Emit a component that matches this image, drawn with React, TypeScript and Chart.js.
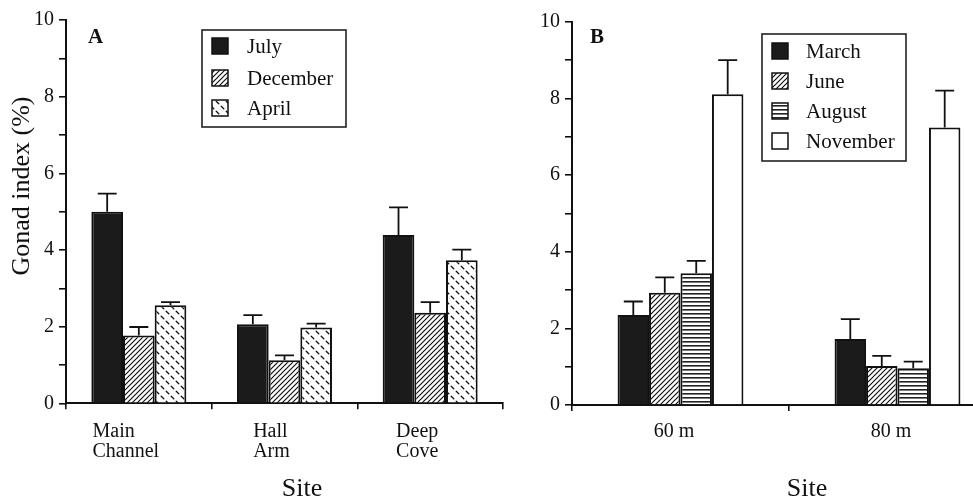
import React, { useEffect, useRef } from 'react';
import { Chart, registerables } from 'chart.js';
Chart.register(...registerables);

const FONT = "'Liberation Serif', 'Times New Roman', serif";

// ---------- Panel A data ----------
const sitesA = [['Main', 'Channel'], ['Hall', 'Arm'], ['Deep', 'Cove']];
const seriesA = ['July', 'December', 'April'];
const julyA = [5.0, 2.06, 4.39];
const julyErrA = [0.47, 0.24, 0.72];
const decA = [1.77, 1.12, 2.36];
const decErrA = [0.22, 0.13, 0.28];
const aprA = [2.56, 1.98, 3.73];
const aprErrA = [0.08, 0.1, 0.28];

// ---------- Panel B data ----------
const sitesB = [['60 m'], ['80 m']];
const seriesB = ['March', 'June', 'August', 'November'];
const marchB = [2.35, 1.72];
const marchErrB = [0.35, 0.52];
const juneB = [2.93, 1.02];
const juneErrB = [0.4, 0.26];
const augB = [3.44, 0.96];
const augErrB = [0.32, 0.17];
const novB = [8.11, 7.24];
const novErrB = [0.89, 0.96];

const yLabelled = [0, 2, 4, 6, 8, 10];
const yTitle = 'Gonad index (%)';
const xTitle = 'Site';

function makePattern(kind: string): any {
  const c = document.createElement('canvas');
  const g = c.getContext('2d') as CanvasRenderingContext2D;
  if (kind === 'diag') {
    c.width = 5; c.height = 5;
    g.fillStyle = '#fff'; g.fillRect(0, 0, 5, 5);
    g.strokeStyle = '#111'; g.lineWidth = 1.2;
    g.beginPath();
    g.moveTo(-1, 6); g.lineTo(6, -1);
    g.moveTo(-1, 1); g.lineTo(1, -1);
    g.moveTo(4, 6); g.lineTo(6, 4);
    g.stroke();
  } else if (kind === 'horiz') {
    c.width = 4; c.height = 4;
    g.fillStyle = '#fff'; g.fillRect(0, 0, 4, 4);
    g.fillStyle = '#222'; g.fillRect(0, 1, 4, 1.6);
  } else if (kind === 'dash') {
    c.width = 10; c.height = 10;
    g.fillStyle = '#fff'; g.fillRect(0, 0, 10, 10);
    g.strokeStyle = '#111'; g.lineWidth = 1.3;
    g.lineCap = 'round';
    g.beginPath();
    g.moveTo(1.2, 6.2); g.lineTo(3.8, 8.8);
    g.moveTo(6.2, 1.2); g.lineTo(8.8, 3.8);
    g.stroke();
  }
  return g.createPattern(c, 'repeat');
}

function decorPlugin(cfg: any) {
  return {
    id: 'decor',
    afterDatasetsDraw(chart: any) {
      const ctx = chart.ctx;
      const y = chart.scales.y;
      ctx.save();
      ctx.strokeStyle = '#111';
      ctx.lineWidth = 1.8;
      chart.data.datasets.forEach((ds: any, d: number) => {
        const meta = chart.getDatasetMeta(d);
        meta.data.forEach((bar: any, i: number) => {
          const top = y.getPixelForValue(ds.data[i] + cfg.errors[d][i]);
          const cap = 19;
          ctx.beginPath();
          ctx.moveTo(bar.x, bar.y);
          ctx.lineTo(bar.x, top);
          ctx.moveTo(bar.x - cap / 2, top);
          ctx.lineTo(bar.x + cap / 2, top);
          ctx.stroke();
        });
      });
      ctx.restore();
    },
    afterDraw(chart: any) {
      const ctx = chart.ctx;
      const xs = chart.scales.x;
      const area = chart.chartArea;
      ctx.save();
      ctx.fillStyle = '#111';
      // category labels
      ctx.font = `20px ${FONT}`;
      ctx.textBaseline = 'alphabetic';
      chart.data.labels.forEach((lab: string[], i: number) => {
        const lines = Array.isArray(lab) ? lab : [lab];
        const w = Math.max(...lines.map((l) => ctx.measureText(l).width));
        const cx = xs.getPixelForValue(i) + cfg.labelShift;
        ctx.textAlign = 'left';
        lines.forEach((l, k) => {
          ctx.fillText(l, cx - w / 2, area.bottom + cfg.labelBase + k * 20);
        });
      });
      // axis titles
      ctx.font = `26px ${FONT}`;
      ctx.textAlign = 'center';
      ctx.fillText(xTitle, cfg.xTitle[0], cfg.xTitle[1]);
      if (cfg.yTitle) {
        ctx.save();
        ctx.translate(cfg.yTitle[0], cfg.yTitle[1]);
        ctx.rotate(-Math.PI / 2);
        ctx.textBaseline = 'middle';
        ctx.fillText(yTitle, 0, 0);
        ctx.restore();
      }
      // panel letter
      ctx.font = `bold 21px ${FONT}`;
      ctx.textAlign = 'left';
      ctx.textBaseline = 'alphabetic';
      ctx.fillText(cfg.letter[0], cfg.letter[1], cfg.letter[2]);
      // legend
      const L = cfg.legend;
      ctx.strokeStyle = '#222';
      ctx.lineWidth = 1.6;
      ctx.strokeRect(L.x, L.y, L.w, L.h);
      ctx.font = `21px ${FONT}`;
      ctx.textBaseline = 'middle';
      chart.data.datasets.forEach((ds: any, d: number) => {
        const cy = L.rows[d];
        ctx.fillStyle = ds.backgroundColor;
        ctx.fillRect(L.sx, cy - 8, 16, 16);
        ctx.strokeStyle = '#111';
        ctx.lineWidth = 1.5;
        ctx.strokeRect(L.sx, cy - 8, 16, 16);
        ctx.fillStyle = '#111';
        ctx.fillText(ds.label, L.tx, cy + 1);
      });
      ctx.restore();
    },
  };
}

function baseOptions(p: any) {
  return {
    responsive: false,
    animation: false,
    layout: { padding: { left: p.padLeft, top: p.padTop, right: p.padRight, bottom: 0 } },
    plugins: { legend: { display: false }, tooltip: { enabled: false }, title: { display: false } },
    datasets: { bar: { categoryPercentage: p.catPct, barPercentage: 1 } },
    scales: {
      x: {
        offset: true,
        grid: { offset: true, drawOnChartArea: false, drawTicks: true, tickLength: 6, color: '#111', lineWidth: 1.6 },
        border: { color: '#111', width: 2 },
        ticks: { display: false },
        afterFit: (s: any) => { s.height = p.xH; },
      },
      y: {
        min: 0,
        max: 10,
        ticks: {
          stepSize: 1,
          autoSkip: false,
          padding: 5,
          color: '#111',
          font: { family: FONT, size: 20 },
          callback: (v: any) => (yLabelled.includes(v) ? String(v) : ''),
        },
        grid: { drawOnChartArea: false, drawTicks: true, tickLength: 7, color: '#111', lineWidth: 1.6 },
        border: { color: '#111', width: 2 },
        afterFit: (s: any) => { s.width = p.yW; },
      },
    },
  };
}

export default function App() {
  const refA = useRef<HTMLCanvasElement>(null);
  const refB = useRef<HTMLCanvasElement>(null);

  useEffect(() => {
    const solid = '#1b1b1b';
    const diag = makePattern('diag');
    const dash = makePattern('dash');
    const horiz = makePattern('horiz');
    const bw = 2;
    const bc = '#111';

    const chartA = new Chart(refA.current as HTMLCanvasElement, {
      type: 'bar',
      data: {
        labels: sitesA as any,
        datasets: [
          { label: seriesA[0], data: julyA, backgroundColor: solid, borderColor: bc, borderWidth: bw },
          { label: seriesA[1], data: decA, backgroundColor: diag, borderColor: bc, borderWidth: bw },
          { label: seriesA[2], data: aprA, backgroundColor: dash, borderColor: bc, borderWidth: bw },
        ],
      },
      options: baseOptions({ padLeft: 0, padTop: 20, padRight: 973 - 503, xH: 98.7, yW: 66, catPct: 0.652 }) as any,
      plugins: [
        decorPlugin({
          errors: [julyErrA, decErrA, aprErrA],
          labelShift: -13,
          labelBase: 33.7,
          xTitle: [302, 496],
          yTitle: [22, 186],
          letter: ['A', 88, 43],
          legend: { x: 202, y: 30, w: 144, h: 97, sx: 212, tx: 247, rows: [46, 78, 108] },
        }) as any,
      ],
    });

    const chartB = new Chart(refB.current as HTMLCanvasElement, {
      type: 'bar',
      data: {
        labels: sitesB as any,
        datasets: [
          { label: seriesB[0], data: marchB, backgroundColor: solid, borderColor: bc, borderWidth: bw },
          { label: seriesB[1], data: juneB, backgroundColor: diag, borderColor: bc, borderWidth: bw },
          { label: seriesB[2], data: augB, backgroundColor: horiz, borderColor: bc, borderWidth: bw },
          { label: seriesB[3], data: novB, backgroundColor: '#ffffff', borderColor: bc, borderWidth: bw },
        ],
      },
      options: baseOptions({ padLeft: 510, padTop: 21.7, padRight: 4, xH: 97, yW: 62, catPct: 0.58 }) as any,
      plugins: [
        decorPlugin({
          errors: [marchErrB, juneErrB, augErrB, novErrB],
          labelShift: -6.5,
          labelBase: 32,
          xTitle: [807, 496],
          yTitle: null,
          letter: ['B', 590, 43],
          legend: { x: 762, y: 34, w: 144, h: 127, sx: 772, tx: 806, rows: [51, 81, 111, 141] },
        }) as any,
      ],
    });

    return () => {
      chartA.destroy();
      chartB.destroy();
    };
  }, []);

  return (
    <div style={{ position: 'fixed', left: 0, top: 0, width: 973, height: 502, overflow: 'hidden', background: '#fff' }}>
      <canvas ref={refA} width={973} height={502} style={{ position: 'absolute', left: 0, top: 0 }} />
      <canvas ref={refB} width={1010} height={502} style={{ position: 'absolute', left: 0, top: 0 }} />
    </div>
  );
}
